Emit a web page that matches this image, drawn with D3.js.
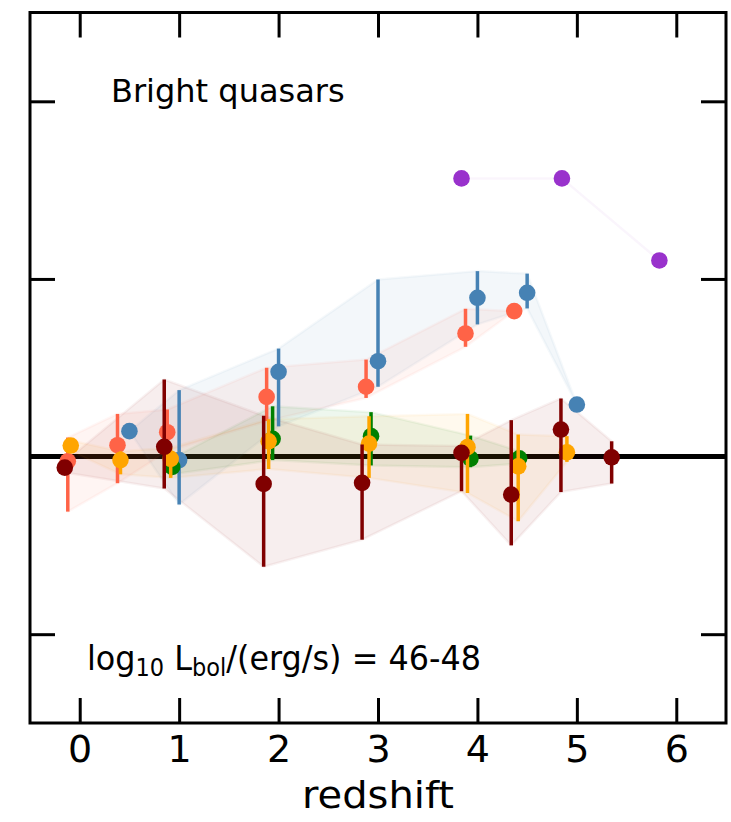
<!DOCTYPE html>
<html><head><meta charset="utf-8">
<script src="https://cdn.jsdelivr.net/npm/d3@7"></script>
<style>body{margin:0;background:#fff} text{font-family:"DejaVu Sans",sans-serif;fill:#000}</style>
</head><body><svg id="c" width="731" height="822"></svg>
<script>
// ---- data ----
const xTicks = [0, 1, 2, 3, 4, 5, 6];
const yTicks = [-1, 0, 1, 2];

const blueZ  = [0.5, 1.0, 2.0, 3.0, 4.0, 4.5, 5.0];
const blueY  = [0.143, -0.02, 0.477, 0.537, 0.894, 0.922, 0.293];
const blueLo = [0.143, -0.27, 0.17, 0.393, 0.744, 0.834, 0.293];
const blueHi = [0.143, 0.374, 0.608, 0.997, 1.044, 1.03, 0.293];

const tomatoZ  = [-0.12, 0.38, 0.88, 1.88, 2.88, 3.88, 4.37];
const tomatoY  = [-0.026, 0.064, 0.137, 0.336, 0.393, 0.693, 0.819];
const tomatoLo = [-0.31, -0.15, 0.03, 0.2, 0.33, 0.618, 0.819];
const tomatoHi = [0.107, 0.24, 0.265, 0.5, 0.546, 0.832, 0.819];

const greenZ  = [0.93, 1.94, 2.93, 3.93, 4.42];
const greenY  = [-0.058, 0.10, 0.115, -0.011, -0.01];
const greenLo = [-0.1, -0.02, -0.05, -0.06, -0.04];
const greenHi = [-0.01, 0.283, 0.25, 0.118, 0.03];

const orangeZ  = [-0.09, 0.41, 0.915, 1.9, 2.91, 3.9, 4.41, 4.9];
const orangeY  = [0.062, -0.02, -0.013, 0.086, 0.073, 0.053, -0.055, 0.024];
const orangeLo = [0.03, -0.10, -0.12, -0.07, -0.12, -0.205, -0.364, -0.03];
const orangeHi = [0.09, 0.03, 0.05, 0.21, 0.227, 0.24, 0.124, 0.115];

const maroonZ  = [-0.15, 0.85, 1.85, 2.84, 3.84, 4.34, 4.84, 5.35];
const maroonY  = [-0.062, 0.055, -0.154, -0.148, 0.021, -0.214, 0.152, -0.004];
const maroonLo = [-0.09, -0.18, -0.62, -0.468, -0.195, -0.5, -0.2, -0.152];
const maroonHi = [-0.03, 0.434, 0.23, 0.068, 0.06, 0.205, 0.327, 0.086];

const purpleZ  = [3.84, 4.85, 5.83];
const purpleY  = [1.566, 1.566, 1.104];
const purpleLo = [1.566, 1.566, 1.104];
const purpleHi = [1.566, 1.566, 1.104];

const series = [
  {color: "#9932CC", z: purpleZ, y: purpleY, lo: purpleLo, hi: purpleHi},
  {color: "#4682B4", z: blueZ, y: blueY, lo: blueLo, hi: blueHi},
  {color: "#FF6347", z: tomatoZ, y: tomatoY, lo: tomatoLo, hi: tomatoHi},
  {color: "#008000", z: greenZ, y: greenY, lo: greenLo, hi: greenHi},
  {color: "#FFA500", z: orangeZ, y: orangeY, lo: orangeLo, hi: orangeHi},
  {color: "#800000", z: maroonZ, y: maroonY, lo: maroonLo, hi: maroonHi}
];

// ---- drawing ----
const svg = d3.select("#c");
const L = 30, R = 726, T = 12.5, B = 723;
const x = d3.scaleLinear().domain([-0.5, 6.5]).range([L, R]);
const y = d3.scaleLinear().domain([-1.5, 2.5]).range([B, T]);

const plot = svg.append("g");
plot.append("clipPath").attr("id", "clip").append("rect")
  .attr("x", L).attr("y", T).attr("width", R - L).attr("height", B - T);
const inner = plot.append("g").attr("clip-path", "url(#clip)");

// zero line
inner.append("line").attr("x1", L).attr("x2", R).attr("y1", y(0)).attr("y2", y(0))
  .attr("stroke", "#000").attr("stroke-width", 5);

// bands
const area = d3.area().x(d => x(d.z)).y0(d => y(d.lo)).y1(d => y(d.hi));
series.forEach(s => {
  const pts = s.z.map((z, i) => ({z, lo: s.lo[i], hi: s.hi[i]}));
  inner.append("path").datum(pts).attr("d", area)
    .attr("fill", s.color).attr("fill-opacity", 0.065)
    .attr("stroke", s.color).attr("stroke-opacity", 0.05).attr("stroke-width", 2.5)
    .attr("stroke-linejoin", "round");
});

// error bars and points
series.forEach(s => {
  const g = inner.append("g");
  const pts = s.z.map((z, i) => ({z, y: s.y[i], lo: s.lo[i], hi: s.hi[i]}));
  g.selectAll("line").data(pts.filter(d => d.hi > d.lo)).join("line")
    .attr("x1", d => x(d.z)).attr("x2", d => x(d.z))
    .attr("y1", d => y(d.lo)).attr("y2", d => y(d.hi))
    .attr("stroke", s.color).attr("stroke-width", 3.5);
  g.selectAll("circle").data(pts).join("circle")
    .attr("cx", d => x(d.z)).attr("cy", d => y(d.y)).attr("r", 8.3)
    .attr("fill", s.color);
});

// axes (ticks inward on all sides)
const tl = 25;
const ax = [
  svg.append("g").attr("transform", `translate(0,${B})`)
    .call(d3.axisBottom(x).tickValues(xTicks).tickSizeInner(-tl).tickSizeOuter(0).tickPadding(12).tickFormat(d3.format("d"))),
  svg.append("g").attr("transform", `translate(0,${T})`)
    .call(d3.axisTop(x).tickValues(xTicks).tickSizeInner(-tl).tickSizeOuter(0).tickFormat("")),
  svg.append("g").attr("transform", `translate(${L},0)`)
    .call(d3.axisLeft(y).tickValues(yTicks).tickSizeInner(-tl).tickSizeOuter(0).tickFormat("")),
  svg.append("g").attr("transform", `translate(${R},0)`)
    .call(d3.axisRight(y).tickValues(yTicks).tickSizeInner(-tl).tickSizeOuter(0).tickFormat(""))
];
ax.forEach(a => {
  a.select(".domain").remove();
  a.selectAll(".tick line").attr("stroke", "#000").attr("stroke-width", 3);
  a.selectAll(".tick text").attr("font-size", 38).attr("font-family", "DejaVu Sans").attr("fill", "#000");
});

// frame
svg.append("rect").attr("x", L).attr("y", T).attr("width", R - L).attr("height", B - T)
  .attr("fill", "none").attr("stroke", "#000").attr("stroke-width", 3);

// texts
svg.append("text").attr("x", (L + R) / 2).attr("y", 808).attr("text-anchor", "middle")
  .attr("font-size", 38).attr("textLength", 152).attr("lengthAdjust", "spacingAndGlyphs").text("redshift");
svg.append("text").attr("x", 111).attr("y", 102).attr("font-size", 32).text("Bright quasars");

const lab = svg.append("text").attr("x", 87).attr("y", 670).attr("font-size", 34)
  .attr("textLength", 394).attr("lengthAdjust", "spacingAndGlyphs");
lab.append("tspan").text("log");
lab.append("tspan").attr("font-size", 24).attr("dy", 6).text("10");
lab.append("tspan").attr("dy", -6).text(" L");
lab.append("tspan").attr("font-size", 24).attr("dy", 6).text("bol");
lab.append("tspan").attr("dy", -6).text("/(erg/s) = 46-48");
</script></body></html>
